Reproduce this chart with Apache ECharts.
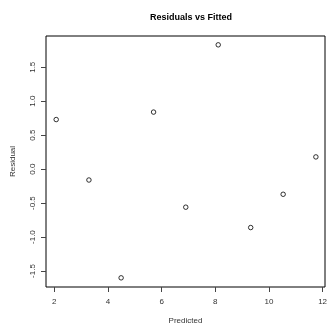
<!DOCTYPE html>
<html>
<head>
<meta charset="utf-8">
<script src="https://cdn.jsdelivr.net/npm/echarts@6/dist/echarts.min.js"></script>
<style>
  html, body { margin: 0; padding: 0; background: #fff; }
  #main { width: 327px; height: 324px; }
</style>
</head>
<body>
<div id="main"></div>
<script>
  // fitted (predicted) values and residuals
  var fitted = [2.07, 3.29, 4.49, 5.70, 6.90, 8.11, 9.32, 10.53, 11.75];
  var residuals = [0.73, -0.16, -1.60, 0.84, -0.56, 1.83, -0.86, -0.37, 0.18];
  var xTicks = [2, 4, 6, 8, 10, 12];
  var yTicks = [-1.5, -1.0, -0.5, 0.0, 0.5, 1.0, 1.5];

  var points = fitted.map(function (f, i) { return [f, residuals[i]]; });

  var chart = echarts.init(document.getElementById('main'));
  var font = 'Liberation Sans, Arial, sans-serif';
  chart.setOption({
    animation: false,
    title: {
      text: 'Residuals vs Fitted',
      left: 186,
      textAlign: 'center',
      top: 8,
      textStyle: { fontSize: 9, fontWeight: 'bold', color: '#000', fontFamily: font }
    },
    grid: {
      left: 46, top: 36, right: 2, bottom: 37,
      outerBoundsMode: 'none',
      containLabel: false,
      show: true, borderColor: '#000', borderWidth: 1, backgroundColor: 'transparent'
    },
    xAxis: {
      type: 'value',
      min: 1.69, max: 12.09,
      name: 'Predicted',
      nameLocation: 'middle',
      nameGap: 30,
      nameTextStyle: { fontSize: 8, color: '#333', fontFamily: font },
      axisLine: { show: false, onZero: false },
      splitLine: { show: false },
      axisTick: { show: true, length: 5, customValues: xTicks, lineStyle: { color: '#444' } },
      axisLabel: {
        customValues: xTicks, margin: 11, fontSize: 8, color: '#333', fontFamily: font,
        formatter: function (v) { return String(v); }
      }
    },
    yAxis: {
      type: 'value',
      min: -1.735, max: 1.96,
      name: 'Residual',
      nameLocation: 'middle',
      nameGap: 29,
      nameTextStyle: { fontSize: 8, color: '#333', fontFamily: font },
      axisLine: { show: false, onZero: false },
      splitLine: { show: false },
      axisTick: { show: true, length: 5, customValues: yTicks, lineStyle: { color: '#444' } },
      axisLabel: {
        customValues: yTicks, rotate: 90, margin: 9, fontSize: 8, color: '#333', fontFamily: font,
        formatter: function (v) { return v.toFixed(1); }
      }
    },
    series: [{
      type: 'scatter',
      data: points,
      symbol: 'circle',
      symbolSize: 4.5,
      itemStyle: { color: '#fff', borderColor: '#000', borderWidth: 1 }
    }]
  });
</script>
</body>
</html>
